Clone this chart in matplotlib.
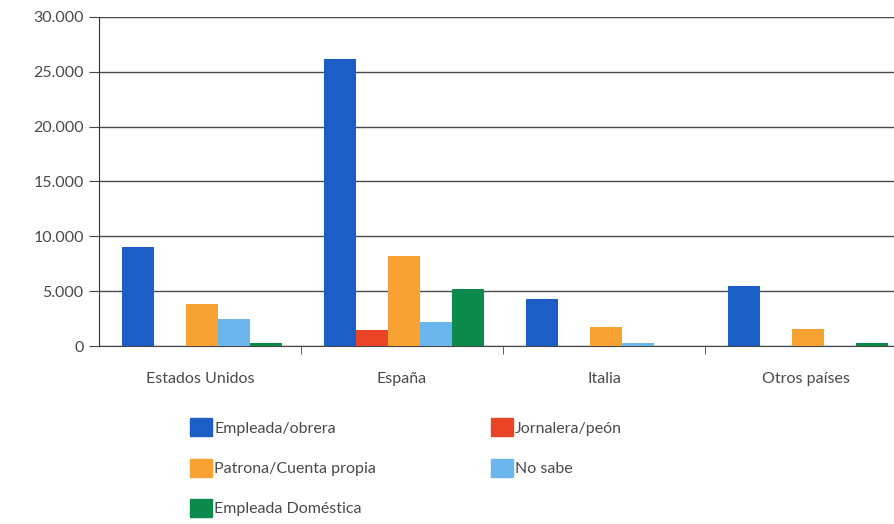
import numpy as np
import matplotlib.pyplot as plt
from matplotlib.patches import Patch
from matplotlib.ticker import FuncFormatter

plt.rcParams['font.family'] = ['Lato', 'DejaVu Sans']

paises = ['Estados Unidos', 'España', 'Italia', 'Otros países']
series = ['Empleada/obrera', 'Jornalera/peón', 'Patrona/Cuenta propia',
          'No sabe', 'Empleada Doméstica']
empleada = [9000, 26200, 4300, 5500]
jornalera = [0, 1500, 0, 0]
patrona = [3850, 8250, 1750, 1550]
no_sabe = [2450, 2150, 300, 0]
domestica = [250, 5200, 0, 300]
colores = ['#1a5ec6', '#ea4426', '#f7a233', '#6cb6ee', '#0b8a4c']

valores = [empleada, jornalera, patrona, no_sabe, domestica]

fig = plt.figure(figsize=(8.95, 5.24), dpi=100)
ax = fig.add_axes([99 / 895, 178 / 524, 808 / 895, 329 / 524])

x = np.arange(len(paises))
w = 0.158
for i, (vals, c) in enumerate(zip(valores, colores)):
    ax.bar(x + 0.01 + (i - 2) * w, vals, width=w, color=c, zorder=3)

ax.set_xlim(-0.5, 3.5)
ax.set_ylim(0, 30000)
ax.set_yticks(np.arange(0, 30001, 5000))
ax.yaxis.set_major_formatter(FuncFormatter(lambda v, p: f'{int(v):,}'.replace(',', '.')))
ax.grid(axis='y', color='#4a4a4a', linewidth=1, zorder=0)

ax.set_xticks(x)
ax.set_xticklabels(paises)
ax.set_xticks(np.arange(0.5, 3.5, 1), minor=True)
ax.tick_params(axis='x', which='major', length=0, pad=19, labelsize=11.5, labelcolor='#4a4a4a')
ax.tick_params(axis='x', which='minor', length=6, color='#444444', direction='out')
ax.tick_params(axis='y', length=7, color='#444444', labelsize=11.5, labelcolor='#4a4a4a', pad=4)

for s in ['top', 'right']:
    ax.spines[s].set_visible(False)
ax.spines['left'].set_color('#333333')
ax.spines['bottom'].set_color('#444444')

handles = [Patch(color=c) for c in colores]
order = [0, 2, 4, 1, 3]
fig.legend([handles[i] for i in order], [series[i] for i in order],
           loc='upper left', bbox_to_anchor=(176 / 895, 1 - 404 / 524),
           ncol=2, frameon=False, fontsize=11.5, handlelength=1.35,
           handleheight=1.35, handletextpad=0.15, labelspacing=1.4,
           columnspacing=7.2, labelcolor='#4a4a4a')

fig.savefig('out.png', dpi=100)
